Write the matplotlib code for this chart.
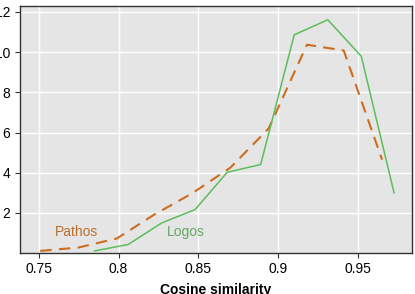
import matplotlib
matplotlib.use('Agg')
import matplotlib.pyplot as plt
import numpy as np

plt.rcParams['font.family'] = ['Liberation Sans', 'DejaVu Sans']

pathos_x = [0.751, 0.775, 0.799, 0.822, 0.846, 0.870, 0.894, 0.918, 0.941, 0.965]
pathos_y = [0.11, 0.28, 0.73, 1.9, 2.97, 4.25, 6.2, 10.37, 10.08, 4.65]
logos_x = [0.785, 0.806, 0.827, 0.848, 0.868, 0.889, 0.910, 0.931, 0.952, 0.9725]
logos_y = [0.11, 0.43, 1.5, 2.17, 4.02, 4.41, 10.86, 11.61, 9.79, 3.0]

c_pathos = '#cc6d1f'
c_logos = '#5cbd5c'

fig, ax = plt.subplots(figsize=(4.15, 2.94), dpi=100)
fig.subplots_adjust(left=0.047, right=0.993, bottom=0.139, top=0.98)
ax.set_facecolor('#e5e5e5')
ax.plot(pathos_x, pathos_y, color=c_pathos, lw=1.5, ls=(0, (5.5, 3.5)))
ax.plot(logos_x, logos_y, color=c_logos, lw=1.1, ls='-')
ax.text(0.7735, 1.04, 'Pathos', color='#b8702e', fontsize=10, ha='center', va='center')
ax.text(0.842, 1.04, 'Logos', color='#62a862', fontsize=10, ha='center', va='center')

ax.set_xlim([0.738, 0.9838])
ax.set_ylim([0, 12.3])
ax.set_xticks([0.75, 0.8, 0.85, 0.9, 0.95])
ax.set_xticklabels(['0.75', '0.8', '0.85', '0.9', '0.95'])
ax.set_yticks([2, 4, 6, 8, 10, 12])
ax.tick_params(labelsize=10, length=3.5, width=0.8, color='#333333', pad=3)
ax.set_xlabel('Cosine similarity', fontsize=10, fontweight='bold', labelpad=5)
ax.grid(color='white', lw=1)
ax.set_axisbelow(True)
for s in ax.spines.values():
    s.set_color('#333333')
    s.set_linewidth(1)

fig.savefig('out.png', facecolor='white')
